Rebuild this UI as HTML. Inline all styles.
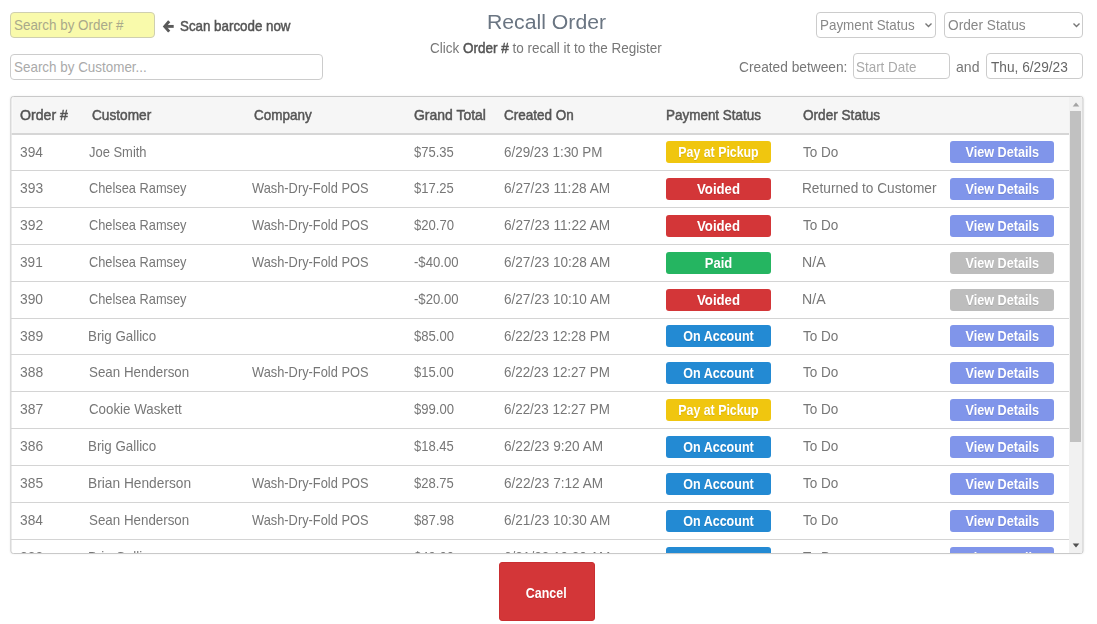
<!DOCTYPE html>
<html><head><meta charset="utf-8"><title>Recall Order</title>
<style>
html,body{margin:0;padding:0;background:#fff;}
body{width:1097px;height:624px;position:relative;overflow:hidden;font-family:"Liberation Sans",sans-serif;}
#pg{position:absolute;left:0;top:0;width:1097px;height:624px;filter:blur(0.4px);}
.t{position:absolute;white-space:nowrap;display:block;}
.box{position:absolute;box-sizing:border-box;border:1px solid #ccc;border-radius:4px;background:#fff;}
.ln{position:absolute;left:0;height:1px;background:#d4d4d4;}
.bd{position:absolute;border-radius:3px;box-sizing:border-box;}
#tbl{position:absolute;left:10px;top:96px;width:1073px;height:458px;box-sizing:border-box;border:1px solid #c9c9c9;border-radius:3px;overflow:hidden;background:#fff;box-shadow:0 0 2px rgba(0,0,0,0.08);transform:translate(0.4px,0);}
</style></head><body><div id="pg">
<div class="box" style="left:10px;top:12px;width:145px;height:26px;background:#f9faab;border-color:#cfcfb0;"></div>
<span id="t1" class="t" style="left:13.81px;top:15.4px;line-height:20px;font-size:14.8px;font-weight:400;color:#a9a98a;transform:scaleX(0.9064);transform-origin:0 50%;">Search by Order #</span>
<div class="box" style="left:10px;top:54px;width:313px;height:26px;"></div>
<span id="t2" class="t" style="left:13.81px;top:57.4px;line-height:20px;font-size:14.8px;font-weight:400;color:#aaa;transform:scaleX(0.9069);transform-origin:0 50%;">Search by Customer...</span>
<svg style="position:absolute;left:162px;top:20px" width="13" height="13" viewBox="0 0 13 13"><path d="M7.2 1.2 L2.7 6.4 L7.2 11.6" fill="none" stroke="#5a5a5a" stroke-width="2.9" stroke-linejoin="miter"/><path d="M2.7 6.4 H11.7" fill="none" stroke="#5a5a5a" stroke-width="2.9"/></svg>
<span id="t3" class="t" style="left:179.71px;top:16.0px;line-height:20px;font-size:14.8px;font-weight:400;color:#555;transform:scaleX(0.9016);transform-origin:0 50%;-webkit-text-stroke:0.5px;">Scan barcode now</span>
<span id="t4" class="t" style="left:486.86px;top:12.3px;line-height:20px;font-size:19.5px;font-weight:400;color:#6a7582;transform:scaleX(1.0879);transform-origin:0 50%;">Recall Order</span>
<span id="t5" class="t" style="left:430.12px;top:38.0px;line-height:20px;font-size:14.8px;font-weight:400;color:#777;transform:scaleX(0.9123);transform-origin:0 50%;">Click <span style="color:#555;-webkit-text-stroke:0.5px">Order #</span> to recall it to the Register</span>
<div class="box" style="left:816px;top:12px;width:120px;height:26px;"></div>
<span id="t6" class="t" style="left:820.21px;top:15.3px;line-height:20px;font-size:14.8px;font-weight:400;color:#888;transform:scaleX(0.9066);transform-origin:0 50%;">Payment Status</span>
<svg style="position:absolute;left:924px;top:22px" width="9" height="7" viewBox="0 0 9 7"><path d="M1.5 1.4 L4.5 4.4 L7.5 1.4" fill="none" stroke="#777" stroke-width="1.4"/></svg>
<div class="box" style="left:944px;top:12px;width:139px;height:26px;"></div>
<span id="t7" class="t" style="left:948.15px;top:15.3px;line-height:20px;font-size:14.8px;font-weight:400;color:#888;transform:scaleX(0.925);transform-origin:0 50%;">Order Status</span>
<svg style="position:absolute;left:1071.5px;top:22px" width="9" height="7" viewBox="0 0 9 7"><path d="M1.5 1.4 L4.5 4.4 L7.5 1.4" fill="none" stroke="#777" stroke-width="1.4"/></svg>
<span id="t8" class="t" style="left:738.8px;top:57.0px;line-height:20px;font-size:14.8px;font-weight:400;color:#777;transform:scaleX(0.9281);transform-origin:0 50%;">Created between:</span>
<div class="box" style="left:853px;top:53px;width:97px;height:26px;"></div>
<span id="t9" class="t" style="left:856.21px;top:56.7px;line-height:20px;font-size:14.8px;font-weight:400;color:#aaa;transform:scaleX(0.9074);transform-origin:0 50%;">Start Date</span>
<span id="t10" class="t" style="left:956.03px;top:57.0px;line-height:20px;font-size:14.8px;font-weight:400;color:#777;transform:scaleX(0.9503);transform-origin:0 50%;">and</span>
<div class="box" style="left:986px;top:53px;width:97px;height:26px;"></div>
<span id="t11" class="t" style="left:990.52px;top:57.0px;line-height:20px;font-size:14.8px;font-weight:400;color:#666;transform:scaleX(0.9246);transform-origin:0 50%;">Thu, 6/29/23</span>
<div id="tbl">
<div style="position:absolute;left:1px;top:0;width:1057px;height:36px;background:#f6f6f6;"></div>
<div class="ln" style="top:36px;width:1058px;height:2px;background:#d6d6d6;"></div>
</div>
<div style="position:absolute;left:11px;top:97px;width:1071px;height:456px;overflow:hidden;">
<div style="position:absolute;left:-11px;top:-97px;width:1097px;height:700px;">
<span id="t12" class="t" style="left:20.13px;top:105.0px;line-height:20px;font-size:14.8px;font-weight:400;color:#555;transform:scaleX(0.9545);transform-origin:0 50%;-webkit-text-stroke:0.5px;">Order #</span>
<span id="t13" class="t" style="left:92.21px;top:105.0px;line-height:20px;font-size:14.8px;font-weight:400;color:#555;transform:scaleX(0.9232);transform-origin:0 50%;-webkit-text-stroke:0.5px;">Customer</span>
<span id="t14" class="t" style="left:254.32px;top:105.0px;line-height:20px;font-size:14.8px;font-weight:400;color:#555;transform:scaleX(0.9105);transform-origin:0 50%;-webkit-text-stroke:0.5px;">Company</span>
<span id="t15" class="t" style="left:413.54px;top:105.0px;line-height:20px;font-size:14.8px;font-weight:400;color:#555;transform:scaleX(0.943);transform-origin:0 50%;-webkit-text-stroke:0.5px;">Grand Total</span>
<span id="t16" class="t" style="left:503.82px;top:105.0px;line-height:20px;font-size:14.8px;font-weight:400;color:#555;transform:scaleX(0.9125);transform-origin:0 50%;-webkit-text-stroke:0.5px;">Created On</span>
<span id="t17" class="t" style="left:665.81px;top:105.0px;line-height:20px;font-size:14.8px;font-weight:400;color:#555;transform:scaleX(0.9095);transform-origin:0 50%;-webkit-text-stroke:0.5px;">Payment Status</span>
<span id="t18" class="t" style="left:802.86px;top:105.0px;line-height:20px;font-size:14.8px;font-weight:400;color:#555;transform:scaleX(0.919);transform-origin:0 50%;-webkit-text-stroke:0.5px;">Order Status</span>
<span id="t19" class="t" style="left:20.29px;top:141.5px;line-height:20px;font-size:14.8px;font-weight:400;color:#777;transform:scaleX(0.9283);transform-origin:0 50%;">394</span>
<span id="t20" class="t" style="left:89.13px;top:141.5px;line-height:20px;font-size:14.8px;font-weight:400;color:#777;transform:scaleX(0.8748);transform-origin:0 50%;">Joe Smith</span>
<span id="t21" class="t" style="left:414.47px;top:141.5px;line-height:20px;font-size:14.8px;font-weight:400;color:#777;transform:scaleX(0.8799);transform-origin:0 50%;">$75.35</span>
<span id="t22" class="t" style="left:504.32px;top:141.5px;line-height:20px;font-size:14.8px;font-weight:400;color:#777;transform:scaleX(0.9063);transform-origin:0 50%;">6/29/23 1:30 PM</span>
<div class="bd" style="left:666px;top:141px;width:105px;height:22px;background:#f0c60f;"></div>
<span id="t23" class="t" style="left:666px;width:105px;text-align:center;top:141.5px;line-height:20px;font-size:14.8px;font-weight:700;color:#fff;transform:scaleX(0.8342);transform-origin:50% 50%;text-shadow:0 1px 0 rgba(0,0,0,0.10);">Pay at Pickup</span>
<span id="t24" class="t" style="left:803.23px;top:141.5px;line-height:20px;font-size:14.8px;font-weight:400;color:#777;transform:scaleX(0.9153);transform-origin:0 50%;">To Do</span>
<div class="bd" style="left:949.5px;top:141px;width:104.5px;height:22px;background:#8095ea;"></div>
<span id="t25" class="t" style="left:949.5px;width:104.5px;text-align:center;top:141.5px;line-height:20px;font-size:14.8px;font-weight:700;color:#fff;transform:scaleX(0.8548);transform-origin:50% 50%;text-shadow:0 1px 0 rgba(0,0,0,0.10);">View Details</span>
<div class="ln" style="left:11px;top:170px;width:1058px;"></div>
<span id="t26" class="t" style="left:20.29px;top:178.0px;line-height:20px;font-size:14.8px;font-weight:400;color:#777;transform:scaleX(0.9362);transform-origin:0 50%;">393</span>
<span id="t27" class="t" style="left:88.65px;top:178.0px;line-height:20px;font-size:14.8px;font-weight:400;color:#777;transform:scaleX(0.8656);transform-origin:0 50%;">Chelsea Ramsey</span>
<span id="t28" class="t" style="left:251.56px;top:178.0px;line-height:20px;font-size:14.8px;font-weight:400;color:#777;transform:scaleX(0.8675);transform-origin:0 50%;">Wash-Dry-Fold POS</span>
<span id="t29" class="t" style="left:414.47px;top:178.0px;line-height:20px;font-size:14.8px;font-weight:400;color:#777;transform:scaleX(0.8799);transform-origin:0 50%;">$17.25</span>
<span id="t30" class="t" style="left:504.31px;top:178.0px;line-height:20px;font-size:14.8px;font-weight:400;color:#777;transform:scaleX(0.9239);transform-origin:0 50%;">6/27/23 11:28 AM</span>
<div class="bd" style="left:666px;top:178px;width:105px;height:22px;background:#d33638;"></div>
<span id="t31" class="t" style="left:666px;width:105px;text-align:center;top:178.5px;line-height:20px;font-size:14.8px;font-weight:700;color:#fff;transform:scaleX(0.8898);transform-origin:50% 50%;text-shadow:0 1px 0 rgba(0,0,0,0.10);">Voided</span>
<span id="t32" class="t" style="left:802.39px;top:178.0px;line-height:20px;font-size:14.8px;font-weight:400;color:#777;transform:scaleX(0.924);transform-origin:0 50%;">Returned to Customer</span>
<div class="bd" style="left:949.5px;top:178px;width:104.5px;height:22px;background:#8095ea;"></div>
<span id="t33" class="t" style="left:949.5px;width:104.5px;text-align:center;top:178.5px;line-height:20px;font-size:14.8px;font-weight:700;color:#fff;transform:scaleX(0.8548);transform-origin:50% 50%;text-shadow:0 1px 0 rgba(0,0,0,0.10);">View Details</span>
<div class="ln" style="left:11px;top:207px;width:1058px;"></div>
<span id="t34" class="t" style="left:20.28px;top:215.0px;line-height:20px;font-size:14.8px;font-weight:400;color:#777;transform:scaleX(0.9402);transform-origin:0 50%;">392</span>
<span id="t35" class="t" style="left:88.65px;top:215.0px;line-height:20px;font-size:14.8px;font-weight:400;color:#777;transform:scaleX(0.8656);transform-origin:0 50%;">Chelsea Ramsey</span>
<span id="t36" class="t" style="left:251.56px;top:215.0px;line-height:20px;font-size:14.8px;font-weight:400;color:#777;transform:scaleX(0.8675);transform-origin:0 50%;">Wash-Dry-Fold POS</span>
<span id="t37" class="t" style="left:414.47px;top:215.0px;line-height:20px;font-size:14.8px;font-weight:400;color:#777;transform:scaleX(0.8857);transform-origin:0 50%;">$20.70</span>
<span id="t38" class="t" style="left:504.31px;top:215.0px;line-height:20px;font-size:14.8px;font-weight:400;color:#777;transform:scaleX(0.9239);transform-origin:0 50%;">6/27/23 11:22 AM</span>
<div class="bd" style="left:666px;top:215px;width:105px;height:22px;background:#d33638;"></div>
<span id="t39" class="t" style="left:666px;width:105px;text-align:center;top:215.5px;line-height:20px;font-size:14.8px;font-weight:700;color:#fff;transform:scaleX(0.8898);transform-origin:50% 50%;text-shadow:0 1px 0 rgba(0,0,0,0.10);">Voided</span>
<span id="t40" class="t" style="left:803.23px;top:215.0px;line-height:20px;font-size:14.8px;font-weight:400;color:#777;transform:scaleX(0.9153);transform-origin:0 50%;">To Do</span>
<div class="bd" style="left:949.5px;top:215px;width:104.5px;height:22px;background:#8095ea;"></div>
<span id="t41" class="t" style="left:949.5px;width:104.5px;text-align:center;top:215.5px;line-height:20px;font-size:14.8px;font-weight:700;color:#fff;transform:scaleX(0.8548);transform-origin:50% 50%;text-shadow:0 1px 0 rgba(0,0,0,0.10);">View Details</span>
<div class="ln" style="left:11px;top:244px;width:1058px;"></div>
<span id="t42" class="t" style="left:20.29px;top:252.0px;line-height:20px;font-size:14.8px;font-weight:400;color:#777;transform:scaleX(0.9211);transform-origin:0 50%;">391</span>
<span id="t43" class="t" style="left:88.65px;top:252.0px;line-height:20px;font-size:14.8px;font-weight:400;color:#777;transform:scaleX(0.8656);transform-origin:0 50%;">Chelsea Ramsey</span>
<span id="t44" class="t" style="left:251.56px;top:252.0px;line-height:20px;font-size:14.8px;font-weight:400;color:#777;transform:scaleX(0.8675);transform-origin:0 50%;">Wash-Dry-Fold POS</span>
<span id="t45" class="t" style="left:414.02px;top:252.0px;line-height:20px;font-size:14.8px;font-weight:400;color:#777;transform:scaleX(0.8878);transform-origin:0 50%;">-$40.00</span>
<span id="t46" class="t" style="left:504.31px;top:252.0px;line-height:20px;font-size:14.8px;font-weight:400;color:#777;transform:scaleX(0.9159);transform-origin:0 50%;">6/27/23 10:28 AM</span>
<div class="bd" style="left:666px;top:252px;width:105px;height:22px;background:#25b561;"></div>
<span id="t47" class="t" style="left:666px;width:105px;text-align:center;top:252.5px;line-height:20px;font-size:14.8px;font-weight:700;color:#fff;transform:scaleX(0.879);transform-origin:50% 50%;text-shadow:0 1px 0 rgba(0,0,0,0.10);">Paid</span>
<span id="t48" class="t" style="left:802.35px;top:252.0px;line-height:20px;font-size:14.8px;font-weight:400;color:#777;transform:scaleX(0.9552);transform-origin:0 50%;">N/A</span>
<div class="bd" style="left:949.5px;top:252px;width:104.5px;height:22px;background:#bdbdbd;"></div>
<span id="t49" class="t" style="left:949.5px;width:104.5px;text-align:center;top:252.5px;line-height:20px;font-size:14.8px;font-weight:700;color:#fff;transform:scaleX(0.8548);transform-origin:50% 50%;text-shadow:0 1px 0 rgba(0,0,0,0.10);">View Details</span>
<div class="ln" style="left:11px;top:281px;width:1058px;"></div>
<span id="t50" class="t" style="left:20.29px;top:289.0px;line-height:20px;font-size:14.8px;font-weight:400;color:#777;transform:scaleX(0.9322);transform-origin:0 50%;">390</span>
<span id="t51" class="t" style="left:88.65px;top:289.0px;line-height:20px;font-size:14.8px;font-weight:400;color:#777;transform:scaleX(0.8656);transform-origin:0 50%;">Chelsea Ramsey</span>
<span id="t52" class="t" style="left:414.02px;top:289.0px;line-height:20px;font-size:14.8px;font-weight:400;color:#777;transform:scaleX(0.8878);transform-origin:0 50%;">-$20.00</span>
<span id="t53" class="t" style="left:504.31px;top:289.0px;line-height:20px;font-size:14.8px;font-weight:400;color:#777;transform:scaleX(0.9159);transform-origin:0 50%;">6/27/23 10:10 AM</span>
<div class="bd" style="left:666px;top:289px;width:105px;height:22px;background:#d33638;"></div>
<span id="t54" class="t" style="left:666px;width:105px;text-align:center;top:289.5px;line-height:20px;font-size:14.8px;font-weight:700;color:#fff;transform:scaleX(0.8898);transform-origin:50% 50%;text-shadow:0 1px 0 rgba(0,0,0,0.10);">Voided</span>
<span id="t55" class="t" style="left:802.35px;top:289.0px;line-height:20px;font-size:14.8px;font-weight:400;color:#777;transform:scaleX(0.9552);transform-origin:0 50%;">N/A</span>
<div class="bd" style="left:949.5px;top:289px;width:104.5px;height:22px;background:#bdbdbd;"></div>
<span id="t56" class="t" style="left:949.5px;width:104.5px;text-align:center;top:289.5px;line-height:20px;font-size:14.8px;font-weight:700;color:#fff;transform:scaleX(0.8548);transform-origin:50% 50%;text-shadow:0 1px 0 rgba(0,0,0,0.10);">View Details</span>
<div class="ln" style="left:11px;top:318px;width:1058px;"></div>
<span id="t57" class="t" style="left:20.28px;top:325.5px;line-height:20px;font-size:14.8px;font-weight:400;color:#777;transform:scaleX(0.9382);transform-origin:0 50%;">389</span>
<span id="t58" class="t" style="left:88.22px;top:325.5px;line-height:20px;font-size:14.8px;font-weight:400;color:#777;transform:scaleX(0.9012);transform-origin:0 50%;">Brig Gallico</span>
<span id="t59" class="t" style="left:414.47px;top:325.5px;line-height:20px;font-size:14.8px;font-weight:400;color:#777;transform:scaleX(0.8857);transform-origin:0 50%;">$85.00</span>
<span id="t60" class="t" style="left:504.32px;top:325.5px;line-height:20px;font-size:14.8px;font-weight:400;color:#777;transform:scaleX(0.906);transform-origin:0 50%;">6/22/23 12:28 PM</span>
<div class="bd" style="left:666px;top:325px;width:105px;height:22px;background:#238ad3;"></div>
<span id="t61" class="t" style="left:666px;width:105px;text-align:center;top:325.5px;line-height:20px;font-size:14.8px;font-weight:700;color:#fff;transform:scaleX(0.8455);transform-origin:50% 50%;text-shadow:0 1px 0 rgba(0,0,0,0.10);">On Account</span>
<span id="t62" class="t" style="left:803.23px;top:325.5px;line-height:20px;font-size:14.8px;font-weight:400;color:#777;transform:scaleX(0.9153);transform-origin:0 50%;">To Do</span>
<div class="bd" style="left:949.5px;top:325px;width:104.5px;height:22px;background:#8095ea;"></div>
<span id="t63" class="t" style="left:949.5px;width:104.5px;text-align:center;top:325.5px;line-height:20px;font-size:14.8px;font-weight:700;color:#fff;transform:scaleX(0.8548);transform-origin:50% 50%;text-shadow:0 1px 0 rgba(0,0,0,0.10);">View Details</span>
<div class="ln" style="left:11px;top:354px;width:1058px;"></div>
<span id="t64" class="t" style="left:20.29px;top:362.0px;line-height:20px;font-size:14.8px;font-weight:400;color:#777;transform:scaleX(0.9362);transform-origin:0 50%;">388</span>
<span id="t65" class="t" style="left:88.71px;top:362.0px;line-height:20px;font-size:14.8px;font-weight:400;color:#777;transform:scaleX(0.9023);transform-origin:0 50%;">Sean Henderson</span>
<span id="t66" class="t" style="left:251.56px;top:362.0px;line-height:20px;font-size:14.8px;font-weight:400;color:#777;transform:scaleX(0.8675);transform-origin:0 50%;">Wash-Dry-Fold POS</span>
<span id="t67" class="t" style="left:414.47px;top:362.0px;line-height:20px;font-size:14.8px;font-weight:400;color:#777;transform:scaleX(0.8789);transform-origin:0 50%;">$15.00</span>
<span id="t68" class="t" style="left:504.32px;top:362.0px;line-height:20px;font-size:14.8px;font-weight:400;color:#777;transform:scaleX(0.906);transform-origin:0 50%;">6/22/23 12:27 PM</span>
<div class="bd" style="left:666px;top:362px;width:105px;height:22px;background:#238ad3;"></div>
<span id="t69" class="t" style="left:666px;width:105px;text-align:center;top:362.5px;line-height:20px;font-size:14.8px;font-weight:700;color:#fff;transform:scaleX(0.8455);transform-origin:50% 50%;text-shadow:0 1px 0 rgba(0,0,0,0.10);">On Account</span>
<span id="t70" class="t" style="left:803.23px;top:362.0px;line-height:20px;font-size:14.8px;font-weight:400;color:#777;transform:scaleX(0.9153);transform-origin:0 50%;">To Do</span>
<div class="bd" style="left:949.5px;top:362px;width:104.5px;height:22px;background:#8095ea;"></div>
<span id="t71" class="t" style="left:949.5px;width:104.5px;text-align:center;top:362.5px;line-height:20px;font-size:14.8px;font-weight:700;color:#fff;transform:scaleX(0.8548);transform-origin:50% 50%;text-shadow:0 1px 0 rgba(0,0,0,0.10);">View Details</span>
<div class="ln" style="left:11px;top:391px;width:1058px;"></div>
<span id="t72" class="t" style="left:20.28px;top:399.0px;line-height:20px;font-size:14.8px;font-weight:400;color:#777;transform:scaleX(0.9402);transform-origin:0 50%;">387</span>
<span id="t73" class="t" style="left:88.62px;top:399.0px;line-height:20px;font-size:14.8px;font-weight:400;color:#777;transform:scaleX(0.9003);transform-origin:0 50%;">Cookie Waskett</span>
<span id="t74" class="t" style="left:414.47px;top:399.0px;line-height:20px;font-size:14.8px;font-weight:400;color:#777;transform:scaleX(0.8857);transform-origin:0 50%;">$99.00</span>
<span id="t75" class="t" style="left:504.32px;top:399.0px;line-height:20px;font-size:14.8px;font-weight:400;color:#777;transform:scaleX(0.906);transform-origin:0 50%;">6/22/23 12:27 PM</span>
<div class="bd" style="left:666px;top:399px;width:105px;height:22px;background:#f0c60f;"></div>
<span id="t76" class="t" style="left:666px;width:105px;text-align:center;top:399.5px;line-height:20px;font-size:14.8px;font-weight:700;color:#fff;transform:scaleX(0.8342);transform-origin:50% 50%;text-shadow:0 1px 0 rgba(0,0,0,0.10);">Pay at Pickup</span>
<span id="t77" class="t" style="left:803.23px;top:399.0px;line-height:20px;font-size:14.8px;font-weight:400;color:#777;transform:scaleX(0.9153);transform-origin:0 50%;">To Do</span>
<div class="bd" style="left:949.5px;top:399px;width:104.5px;height:22px;background:#8095ea;"></div>
<span id="t78" class="t" style="left:949.5px;width:104.5px;text-align:center;top:399.5px;line-height:20px;font-size:14.8px;font-weight:700;color:#fff;transform:scaleX(0.8548);transform-origin:50% 50%;text-shadow:0 1px 0 rgba(0,0,0,0.10);">View Details</span>
<div class="ln" style="left:11px;top:428px;width:1058px;"></div>
<span id="t79" class="t" style="left:20.29px;top:436.0px;line-height:20px;font-size:14.8px;font-weight:400;color:#777;transform:scaleX(0.9362);transform-origin:0 50%;">386</span>
<span id="t80" class="t" style="left:88.22px;top:436.0px;line-height:20px;font-size:14.8px;font-weight:400;color:#777;transform:scaleX(0.9012);transform-origin:0 50%;">Brig Gallico</span>
<span id="t81" class="t" style="left:414.47px;top:436.0px;line-height:20px;font-size:14.8px;font-weight:400;color:#777;transform:scaleX(0.8799);transform-origin:0 50%;">$18.45</span>
<span id="t82" class="t" style="left:504.31px;top:436.0px;line-height:20px;font-size:14.8px;font-weight:400;color:#777;transform:scaleX(0.9192);transform-origin:0 50%;">6/22/23 9:20 AM</span>
<div class="bd" style="left:666px;top:436px;width:105px;height:22px;background:#238ad3;"></div>
<span id="t83" class="t" style="left:666px;width:105px;text-align:center;top:436.5px;line-height:20px;font-size:14.8px;font-weight:700;color:#fff;transform:scaleX(0.8455);transform-origin:50% 50%;text-shadow:0 1px 0 rgba(0,0,0,0.10);">On Account</span>
<span id="t84" class="t" style="left:803.23px;top:436.0px;line-height:20px;font-size:14.8px;font-weight:400;color:#777;transform:scaleX(0.9153);transform-origin:0 50%;">To Do</span>
<div class="bd" style="left:949.5px;top:436px;width:104.5px;height:22px;background:#8095ea;"></div>
<span id="t85" class="t" style="left:949.5px;width:104.5px;text-align:center;top:436.5px;line-height:20px;font-size:14.8px;font-weight:700;color:#fff;transform:scaleX(0.8548);transform-origin:50% 50%;text-shadow:0 1px 0 rgba(0,0,0,0.10);">View Details</span>
<div class="ln" style="left:11px;top:465px;width:1058px;"></div>
<span id="t86" class="t" style="left:20.29px;top:473.0px;line-height:20px;font-size:14.8px;font-weight:400;color:#777;transform:scaleX(0.9342);transform-origin:0 50%;">385</span>
<span id="t87" class="t" style="left:88.19px;top:473.0px;line-height:20px;font-size:14.8px;font-weight:400;color:#777;transform:scaleX(0.9289);transform-origin:0 50%;">Brian Henderson</span>
<span id="t88" class="t" style="left:251.56px;top:473.0px;line-height:20px;font-size:14.8px;font-weight:400;color:#777;transform:scaleX(0.8675);transform-origin:0 50%;">Wash-Dry-Fold POS</span>
<span id="t89" class="t" style="left:414.47px;top:473.0px;line-height:20px;font-size:14.8px;font-weight:400;color:#777;transform:scaleX(0.8799);transform-origin:0 50%;">$28.75</span>
<span id="t90" class="t" style="left:504.31px;top:473.0px;line-height:20px;font-size:14.8px;font-weight:400;color:#777;transform:scaleX(0.9192);transform-origin:0 50%;">6/22/23 7:12 AM</span>
<div class="bd" style="left:666px;top:473px;width:105px;height:22px;background:#238ad3;"></div>
<span id="t91" class="t" style="left:666px;width:105px;text-align:center;top:473.5px;line-height:20px;font-size:14.8px;font-weight:700;color:#fff;transform:scaleX(0.8455);transform-origin:50% 50%;text-shadow:0 1px 0 rgba(0,0,0,0.10);">On Account</span>
<span id="t92" class="t" style="left:803.23px;top:473.0px;line-height:20px;font-size:14.8px;font-weight:400;color:#777;transform:scaleX(0.9153);transform-origin:0 50%;">To Do</span>
<div class="bd" style="left:949.5px;top:473px;width:104.5px;height:22px;background:#8095ea;"></div>
<span id="t93" class="t" style="left:949.5px;width:104.5px;text-align:center;top:473.5px;line-height:20px;font-size:14.8px;font-weight:700;color:#fff;transform:scaleX(0.8548);transform-origin:50% 50%;text-shadow:0 1px 0 rgba(0,0,0,0.10);">View Details</span>
<div class="ln" style="left:11px;top:502px;width:1058px;"></div>
<span id="t94" class="t" style="left:20.29px;top:510.0px;line-height:20px;font-size:14.8px;font-weight:400;color:#777;transform:scaleX(0.9283);transform-origin:0 50%;">384</span>
<span id="t95" class="t" style="left:88.71px;top:510.0px;line-height:20px;font-size:14.8px;font-weight:400;color:#777;transform:scaleX(0.9023);transform-origin:0 50%;">Sean Henderson</span>
<span id="t96" class="t" style="left:251.56px;top:510.0px;line-height:20px;font-size:14.8px;font-weight:400;color:#777;transform:scaleX(0.8675);transform-origin:0 50%;">Wash-Dry-Fold POS</span>
<span id="t97" class="t" style="left:414.47px;top:510.0px;line-height:20px;font-size:14.8px;font-weight:400;color:#777;transform:scaleX(0.8876);transform-origin:0 50%;">$87.98</span>
<span id="t98" class="t" style="left:504.31px;top:510.0px;line-height:20px;font-size:14.8px;font-weight:400;color:#777;transform:scaleX(0.9159);transform-origin:0 50%;">6/21/23 10:30 AM</span>
<div class="bd" style="left:666px;top:510px;width:105px;height:22px;background:#238ad3;"></div>
<span id="t99" class="t" style="left:666px;width:105px;text-align:center;top:510.5px;line-height:20px;font-size:14.8px;font-weight:700;color:#fff;transform:scaleX(0.8455);transform-origin:50% 50%;text-shadow:0 1px 0 rgba(0,0,0,0.10);">On Account</span>
<span id="t100" class="t" style="left:803.23px;top:510.0px;line-height:20px;font-size:14.8px;font-weight:400;color:#777;transform:scaleX(0.9153);transform-origin:0 50%;">To Do</span>
<div class="bd" style="left:949.5px;top:510px;width:104.5px;height:22px;background:#8095ea;"></div>
<span id="t101" class="t" style="left:949.5px;width:104.5px;text-align:center;top:510.5px;line-height:20px;font-size:14.8px;font-weight:700;color:#fff;transform:scaleX(0.8548);transform-origin:50% 50%;text-shadow:0 1px 0 rgba(0,0,0,0.10);">View Details</span>
<div class="ln" style="left:11px;top:539px;width:1058px;"></div>
<span id="t102" class="t" style="left:20.29px;top:547.0px;line-height:20px;font-size:14.8px;font-weight:400;color:#777;transform:scaleX(0.9362);transform-origin:0 50%;">383</span>
<span id="t103" class="t" style="left:88.22px;top:547.0px;line-height:20px;font-size:14.8px;font-weight:400;color:#777;transform:scaleX(0.9012);transform-origin:0 50%;">Brig Gallico</span>
<span id="t104" class="t" style="left:414.47px;top:547.0px;line-height:20px;font-size:14.8px;font-weight:400;color:#777;transform:scaleX(0.8857);transform-origin:0 50%;">$49.00</span>
<span id="t105" class="t" style="left:504.31px;top:547.0px;line-height:20px;font-size:14.8px;font-weight:400;color:#777;transform:scaleX(0.9159);transform-origin:0 50%;">6/21/23 10:20 AM</span>
<div class="bd" style="left:666px;top:547px;width:105px;height:22px;background:#238ad3;"></div>
<span id="t106" class="t" style="left:666px;width:105px;text-align:center;top:547.5px;line-height:20px;font-size:14.8px;font-weight:700;color:#fff;transform:scaleX(0.8455);transform-origin:50% 50%;text-shadow:0 1px 0 rgba(0,0,0,0.10);">On Account</span>
<span id="t107" class="t" style="left:803.23px;top:547.0px;line-height:20px;font-size:14.8px;font-weight:400;color:#777;transform:scaleX(0.9153);transform-origin:0 50%;">To Do</span>
<div class="bd" style="left:949.5px;top:547px;width:104.5px;height:22px;background:#8095ea;"></div>
<span id="t108" class="t" style="left:949.5px;width:104.5px;text-align:center;top:547.5px;line-height:20px;font-size:14.8px;font-weight:700;color:#fff;transform:scaleX(0.8548);transform-origin:50% 50%;text-shadow:0 1px 0 rgba(0,0,0,0.10);">View Details</span>
<div class="ln" style="left:11px;top:576px;width:1058px;"></div>
<div style="position:absolute;left:1069px;top:97px;width:13px;height:456px;background:#f1f1f1;"></div>
<div style="position:absolute;left:1070.3px;top:111.2px;width:10.7px;height:331.1px;background:#c1c1c1;"></div>
<svg style="position:absolute;left:1071px;top:101px" width="10" height="7" viewBox="0 0 10 7"><path d="M1.7 5.4 L5 1.6 L8.3 5.4 Z" fill="#a3a3a3"/></svg>
<svg style="position:absolute;left:1071px;top:542px" width="10" height="7" viewBox="0 0 10 7"><path d="M1.7 1.6 L5 5.4 L8.3 1.6 Z" fill="#505050"/></svg>
</div></div>
<div class="bd" style="left:498.5px;top:562px;width:96.5px;height:59px;background:#d33638;border:1px solid #c92e31;"></div>
<span id="t109" class="t" style="left:498px;width:96.5px;text-align:center;top:582.5px;line-height:20px;font-size:15.2px;font-weight:700;color:#fff;transform:scaleX(0.8183);transform-origin:50% 50%;text-shadow:0 1px 0 rgba(0,0,0,0.10);">Cancel</span>
</div></body></html>
